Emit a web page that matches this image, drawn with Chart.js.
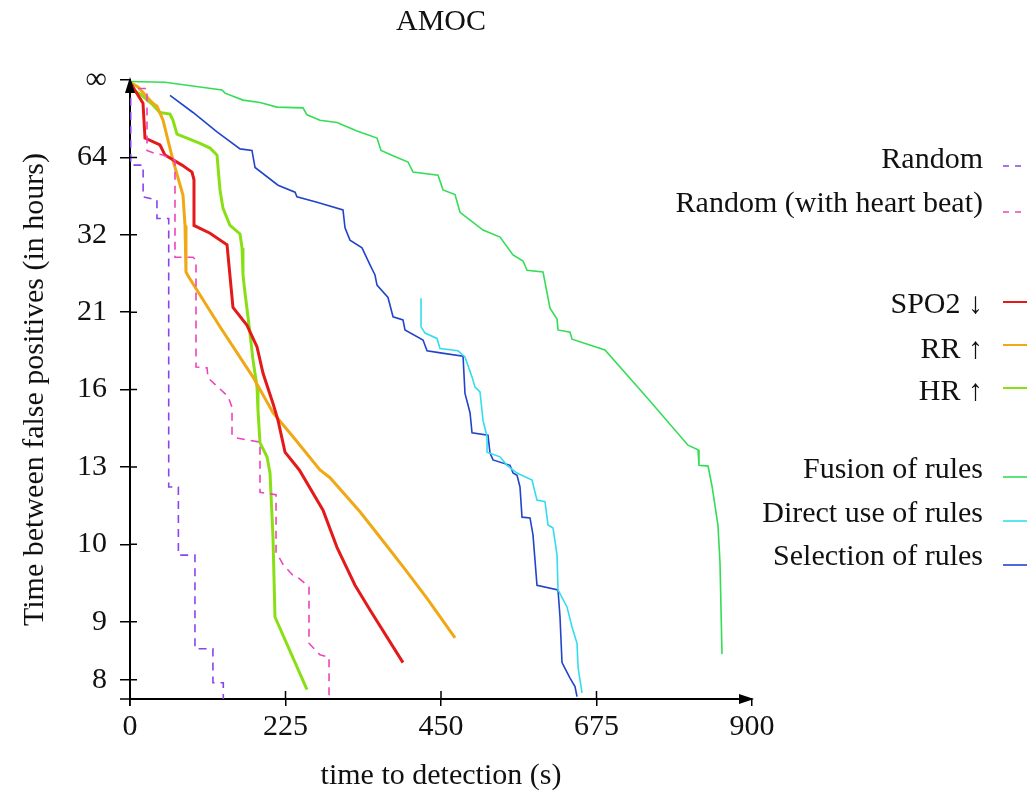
<!DOCTYPE html>
<html>
<head>
<meta charset="utf-8">
<script src="https://cdn.jsdelivr.net/npm/chart.js@4.4.1/dist/chart.umd.min.js"></script>
<style>
  body { margin: 0; background: #fff; }
  canvas { display: block; }
</style>
</head>
<body>
<canvas id="myChart" width="1027" height="797"></canvas>
<script>
// y axis is drawn on an even grid, one step per label (bottom = 8 h, top = infinity)
const yTickPos = [0.25, 1, 2, 3, 4, 5, 6, 7, 8];
const yTickLabels = ['8', '9', '10', '13', '16', '21', '32', '64', '\u221e'];
const xTicks = [0, 225, 450, 675, 900];

const randomX = [1, 1, 19, 19, 39, 39, 56, 56, 70, 70, 94, 94, 120, 120, 135, 135];
const randomY = [7.95, 6.9, 6.9, 6.49, 6.45, 6.21, 6.21, 2.74, 2.74, 1.86, 1.86, 0.65, 0.65, 0.21, 0.21, 0];

const randomHbX = [11.6, 24.6, 24.6, 33.3, 47.8, 65.1, 65.1, 91.2, 95.5, 95.5, 111.4, 112.9, 127.3, 141.8, 147.6, 147.6,
    156.3, 188.1, 188.1, 195.3, 211.3, 211.3, 221.4, 234.4, 244.5, 259, 259, 274.9, 288, 288];
const randomHbY = [7.89, 7.89, 7.09, 7.06, 7.03, 6.96, 5.71, 5.71, 5.67, 4.29, 4.28, 4.15, 4.03, 3.91, 3.77, 3.41,
    3.37, 3.32, 2.67, 2.66, 2.64, 1.90, 1.74, 1.61, 1.56, 1.45, 0.72, 0.57, 0.54, 0];

const spo2X = [0, 18.8, 21.7, 43.4, 50.6, 75.2, 89.7, 92.6, 92.6, 115.8, 140.4, 149, 169.3, 183.8, 192.5, 206.9,
    214.2, 224.3, 245, 279.3, 299.5, 325.6, 347.3, 395];
const spo2Y = [7.97, 7.70, 7.25, 7.16, 7.03, 6.90, 6.81, 6.71, 6.12, 6.02, 5.87, 5.06, 4.83, 4.55, 4.21, 3.82,
    3.60, 3.19, 2.96, 2.44, 1.96, 1.47, 1.15, 0.47];

const rrX = [0, 11.6, 31.8, 39.1, 47.8, 62.2, 76.7, 79.6, 81.0, 83.9, 130.2, 178, 206.9, 235.9, 274.9, 289.4,
    332.8, 361.8, 395, 429.8, 470.3];
const rrY = [7.97, 7.91, 7.71, 7.66, 7.48, 6.96, 6.51, 6.12, 5.52, 5.47, 4.81, 4.16, 3.70, 3.39, 2.96, 2.86,
    2.42, 2.09, 1.71, 1.30, 0.79];

const hrX = [0, 4.3, 14.5, 31.8, 43.4, 57.9, 62.2, 68, 82.5, 101.3, 115.8, 125.9, 130.2, 134.6, 144.7, 159.2,
    162.1, 163.5, 166.4, 173.6, 178, 183.8, 185.2, 188.1, 198.2, 202.6, 206.9, 209.8, 256.1];
const hrY = [7.97, 7.87, 7.82, 7.69, 7.58, 7.56, 7.48, 7.30, 7.25, 7.18, 7.12, 7.03, 6.58, 6.34, 6.12, 6.01,
    5.83, 5.48, 5.25, 4.73, 4.38, 4.03, 3.73, 3.31, 3.13, 2.92, 2.09, 1.06, 0.12];

const fusionX = [0, 50.6, 101.3, 133.1, 137.5, 163.5, 188.1, 212.7, 250.3, 256.1, 274.9, 299.5, 328.5, 357.4,
    363.2, 380.6, 402.3, 409.5, 445.7, 452.9, 470.3, 477.5, 510.8, 535.4, 554.2, 568.7, 574.5, 597.6, 607.7,
    617.9, 619.3, 636.7, 639.6, 687.3, 749.5, 807.4, 821.9, 823.3, 836.4, 842.2, 850.8, 853.7, 856.6];
const fusionY = [7.98, 7.97, 7.91, 7.87, 7.83, 7.74, 7.71, 7.65, 7.64, 7.55, 7.48, 7.45, 7.34, 7.25, 7.09, 7.02,
    6.94, 6.81, 6.77, 6.58, 6.52, 6.29, 6.06, 5.97, 5.74, 5.66, 5.54, 5.52, 5.05, 4.91, 4.77, 4.74, 4.65, 4.51,
    3.88, 3.28, 3.22, 3.02, 3.01, 2.75, 2.24, 1.76, 0.58];

const directX = [421.1, 421.1, 426.9, 444.2, 448.6, 474.6, 484.7, 494.9, 499.2, 506.4, 510.8, 516.6, 516.6,
    535.4, 545.5, 560, 581.7, 588.9, 600.5, 604.8, 612.1, 617.9, 619.3, 632.3, 639.6, 646.8, 648.3, 654];
const directY = [5.18, 4.81, 4.73, 4.66, 4.53, 4.50, 4.42, 4.16, 4.03, 3.97, 3.60, 3.39, 3.19, 3.13, 3.02,
    2.92, 2.83, 2.57, 2.55, 2.25, 2.21, 1.86, 1.41, 1.19, 0.93, 0.72, 0.41, 0.08];

const selectionX = [57.9, 91.2, 125.9, 159.2, 176.5, 180.9, 214.2, 238.8, 241.6, 270.6, 308.2, 311.1, 318.3,
    335.7, 347.3, 354.5, 357.4, 373.3, 380.6, 395, 397.9, 424, 429.8, 451.5, 481.9, 484.7, 492, 494.9, 518,
    520.9, 525.3, 549.9, 554.2, 560, 564.3, 567.2, 578.8, 583.1, 588.9, 619.3, 622.2, 625.1, 636.7, 643.9, 646.8];
const selectionY = [7.80, 7.58, 7.33, 7.11, 7.09, 6.87, 6.64, 6.55, 6.49, 6.42, 6.32, 6.09, 5.93, 5.83, 5.61,
    5.48, 5.35, 5.19, 4.94, 4.90, 4.77, 4.64, 4.50, 4.47, 4.43, 3.95, 3.70, 3.44, 3.41, 3.18, 3.09, 3.02, 2.92,
    2.89, 2.74, 2.35, 2.34, 2.12, 1.47, 1.41, 1.06, 0.47, 0.27, 0.16, 0.03];

const FONT = 'Liberation Serif, Times New Roman, serif';

function toPoints(xs, ys) {
    return xs.map((x, i) => ({ x: x, y: ys[i] }));
}

function series(label, xs, ys, color, width, dash) {
    return {
        label: label,
        data: toPoints(xs, ys),
        borderColor: color,
        backgroundColor: color,
        borderWidth: width,
        borderDash: dash || [],
        pointRadius: 0,
        tension: 0,
        fill: false,
    };
}

// axis arrows + tick marks reaching into the plot
const axisDecor = {
    id: 'axisDecor',
    afterDraw(chart) {
        const { ctx, chartArea: a, scales } = chart;
        ctx.save();
        ctx.strokeStyle = '#000';
        ctx.fillStyle = '#000';
        ctx.lineWidth = 1.5;
        ctx.beginPath();
        ctx.moveTo(a.left - 10, a.bottom); ctx.lineTo(a.left, a.bottom);
        ctx.moveTo(a.left, a.bottom); ctx.lineTo(a.left, a.bottom + 7);
        scales.x.ticks.forEach(t => {
            const px = scales.x.getPixelForValue(t.value);
            if (px > a.left + 1 && px < a.right - 1) { ctx.moveTo(px, a.bottom); ctx.lineTo(px, a.bottom - 8); }
        });
        scales.y.ticks.forEach(t => {
            const py = scales.y.getPixelForValue(t.value);
            if (py < a.bottom - 1 && py > a.top + 1) { ctx.moveTo(a.left, py); ctx.lineTo(a.left + 7, py); }
        });
        ctx.stroke();
        ctx.beginPath();
        ctx.moveTo(a.right + 2, a.bottom);
        ctx.lineTo(a.right - 13, a.bottom - 5);
        ctx.lineTo(a.right - 13, a.bottom + 5);
        ctx.closePath();
        ctx.fill();
        ctx.beginPath();
        ctx.moveTo(a.left, a.top - 3);
        ctx.lineTo(a.left - 5, a.top + 13);
        ctx.lineTo(a.left + 5, a.top + 13);
        ctx.closePath();
        ctx.fill();
        ctx.restore();
    }
};

// grouped legend on the right: [text baseline, sample line y]
const legendRows = [[168, 166], [212, 212], [313, 302], [358, 345], [400, 388], [478, 477], [522, 521], [565, 565]];
const sideLegend = {
    id: 'sideLegend',
    afterDraw(chart) {
        const { ctx } = chart;
        ctx.save();
        ctx.font = '30px ' + FONT;
        ctx.textAlign = 'right';
        ctx.textBaseline = 'alphabetic';
        chart.data.datasets.forEach((ds, i) => {
            const row = legendRows[i];
            ctx.fillStyle = '#111';
            ctx.fillText(ds.label, 983, row[0]);
            ctx.strokeStyle = ds.borderColor;
            ctx.lineWidth = Math.min(ds.borderWidth, 2);
            ctx.setLineDash(ds.borderDash.length ? [6, 6] : []);
            ctx.beginPath();
            ctx.moveTo(1003, row[1]);
            ctx.lineTo(1030, row[1]);
            ctx.stroke();
        });
        ctx.restore();
    }
};

const ctx = document.getElementById('myChart').getContext('2d');
const chart = new Chart(ctx, {
    type: 'line',
    data: {
        datasets: [
            series('Random', randomX, randomY, '#8a44ee', 1.6, [8, 6]),
            series('Random (with heart beat)', randomHbX, randomHbY, '#ee44bb', 1.6, [8, 6]),
            series('SPO2 \u2193', spo2X, spo2Y, '#e41a1a', 3),
            series('RR \u2191', rrX, rrY, '#f0a814', 3),
            series('HR \u2191', hrX, hrY, '#88e014', 3),
            series('Fusion of rules', fusionX, fusionY, '#33dd55', 1.6),
            series('Direct use of rules', directX, directY, '#33ddee', 1.6),
            series('Selection of rules', selectionX, selectionY, '#2244cc', 1.6),
        ]
    },
    options: {
        responsive: false,
        animation: false,
        devicePixelRatio: 1,
        layout: { padding: { left: 0, right: 275, top: 0, bottom: 0 } },
        plugins: {
            legend: { display: false },
            tooltip: { enabled: false },
            title: {
                display: true,
                text: 'AMOC',
                fullSize: false,
                color: '#111',
                font: { family: FONT, size: 30, weight: 'normal' },
                padding: { top: 4, bottom: 40 },
            },
        },
        scales: {
            x: {
                type: 'linear',
                min: 0,
                max: 900,
                afterBuildTicks: s => { s.ticks = xTicks.map(v => ({ value: v })); },
                afterFit: s => { s.height = 98; },
                ticks: {
                    color: '#111',
                    font: { family: FONT, size: 30 },
                    padding: 3,
                    maxRotation: 0,
                },
                grid: { drawOnChartArea: false, drawTicks: true, tickLength: 7, color: '#000', lineWidth: 1.5 },
                border: { display: true, color: '#000', width: 2 },
                title: {
                    display: true,
                    text: 'time to detection (s)',
                    color: '#111',
                    font: { family: FONT, size: 30 },
                    padding: { top: 0, bottom: 3 },
                },
            },
            y: {
                type: 'linear',
                min: 0,
                max: 8,
                afterBuildTicks: s => { s.ticks = yTickPos.map(v => ({ value: v })); },
                afterFit: s => { s.width = 130; },
                ticks: {
                    color: '#111',
                    font: { family: FONT, size: 30 },
                    padding: 13,
                    callback: v => yTickLabels[yTickPos.indexOf(v)],
                },
                grid: { drawOnChartArea: false, drawTicks: true, tickLength: 10, color: '#000', lineWidth: 1.5 },
                border: { display: true, color: '#000', width: 2 },
                title: {
                    display: true,
                    text: 'Time between false positives (in hours)',
                    color: '#111',
                    font: { family: FONT, size: 30 },
                    padding: { top: 17, bottom: 0 },
                },
            },
        },
    },
    plugins: [axisDecor, sideLegend],
});
</script>
</body>
</html>
